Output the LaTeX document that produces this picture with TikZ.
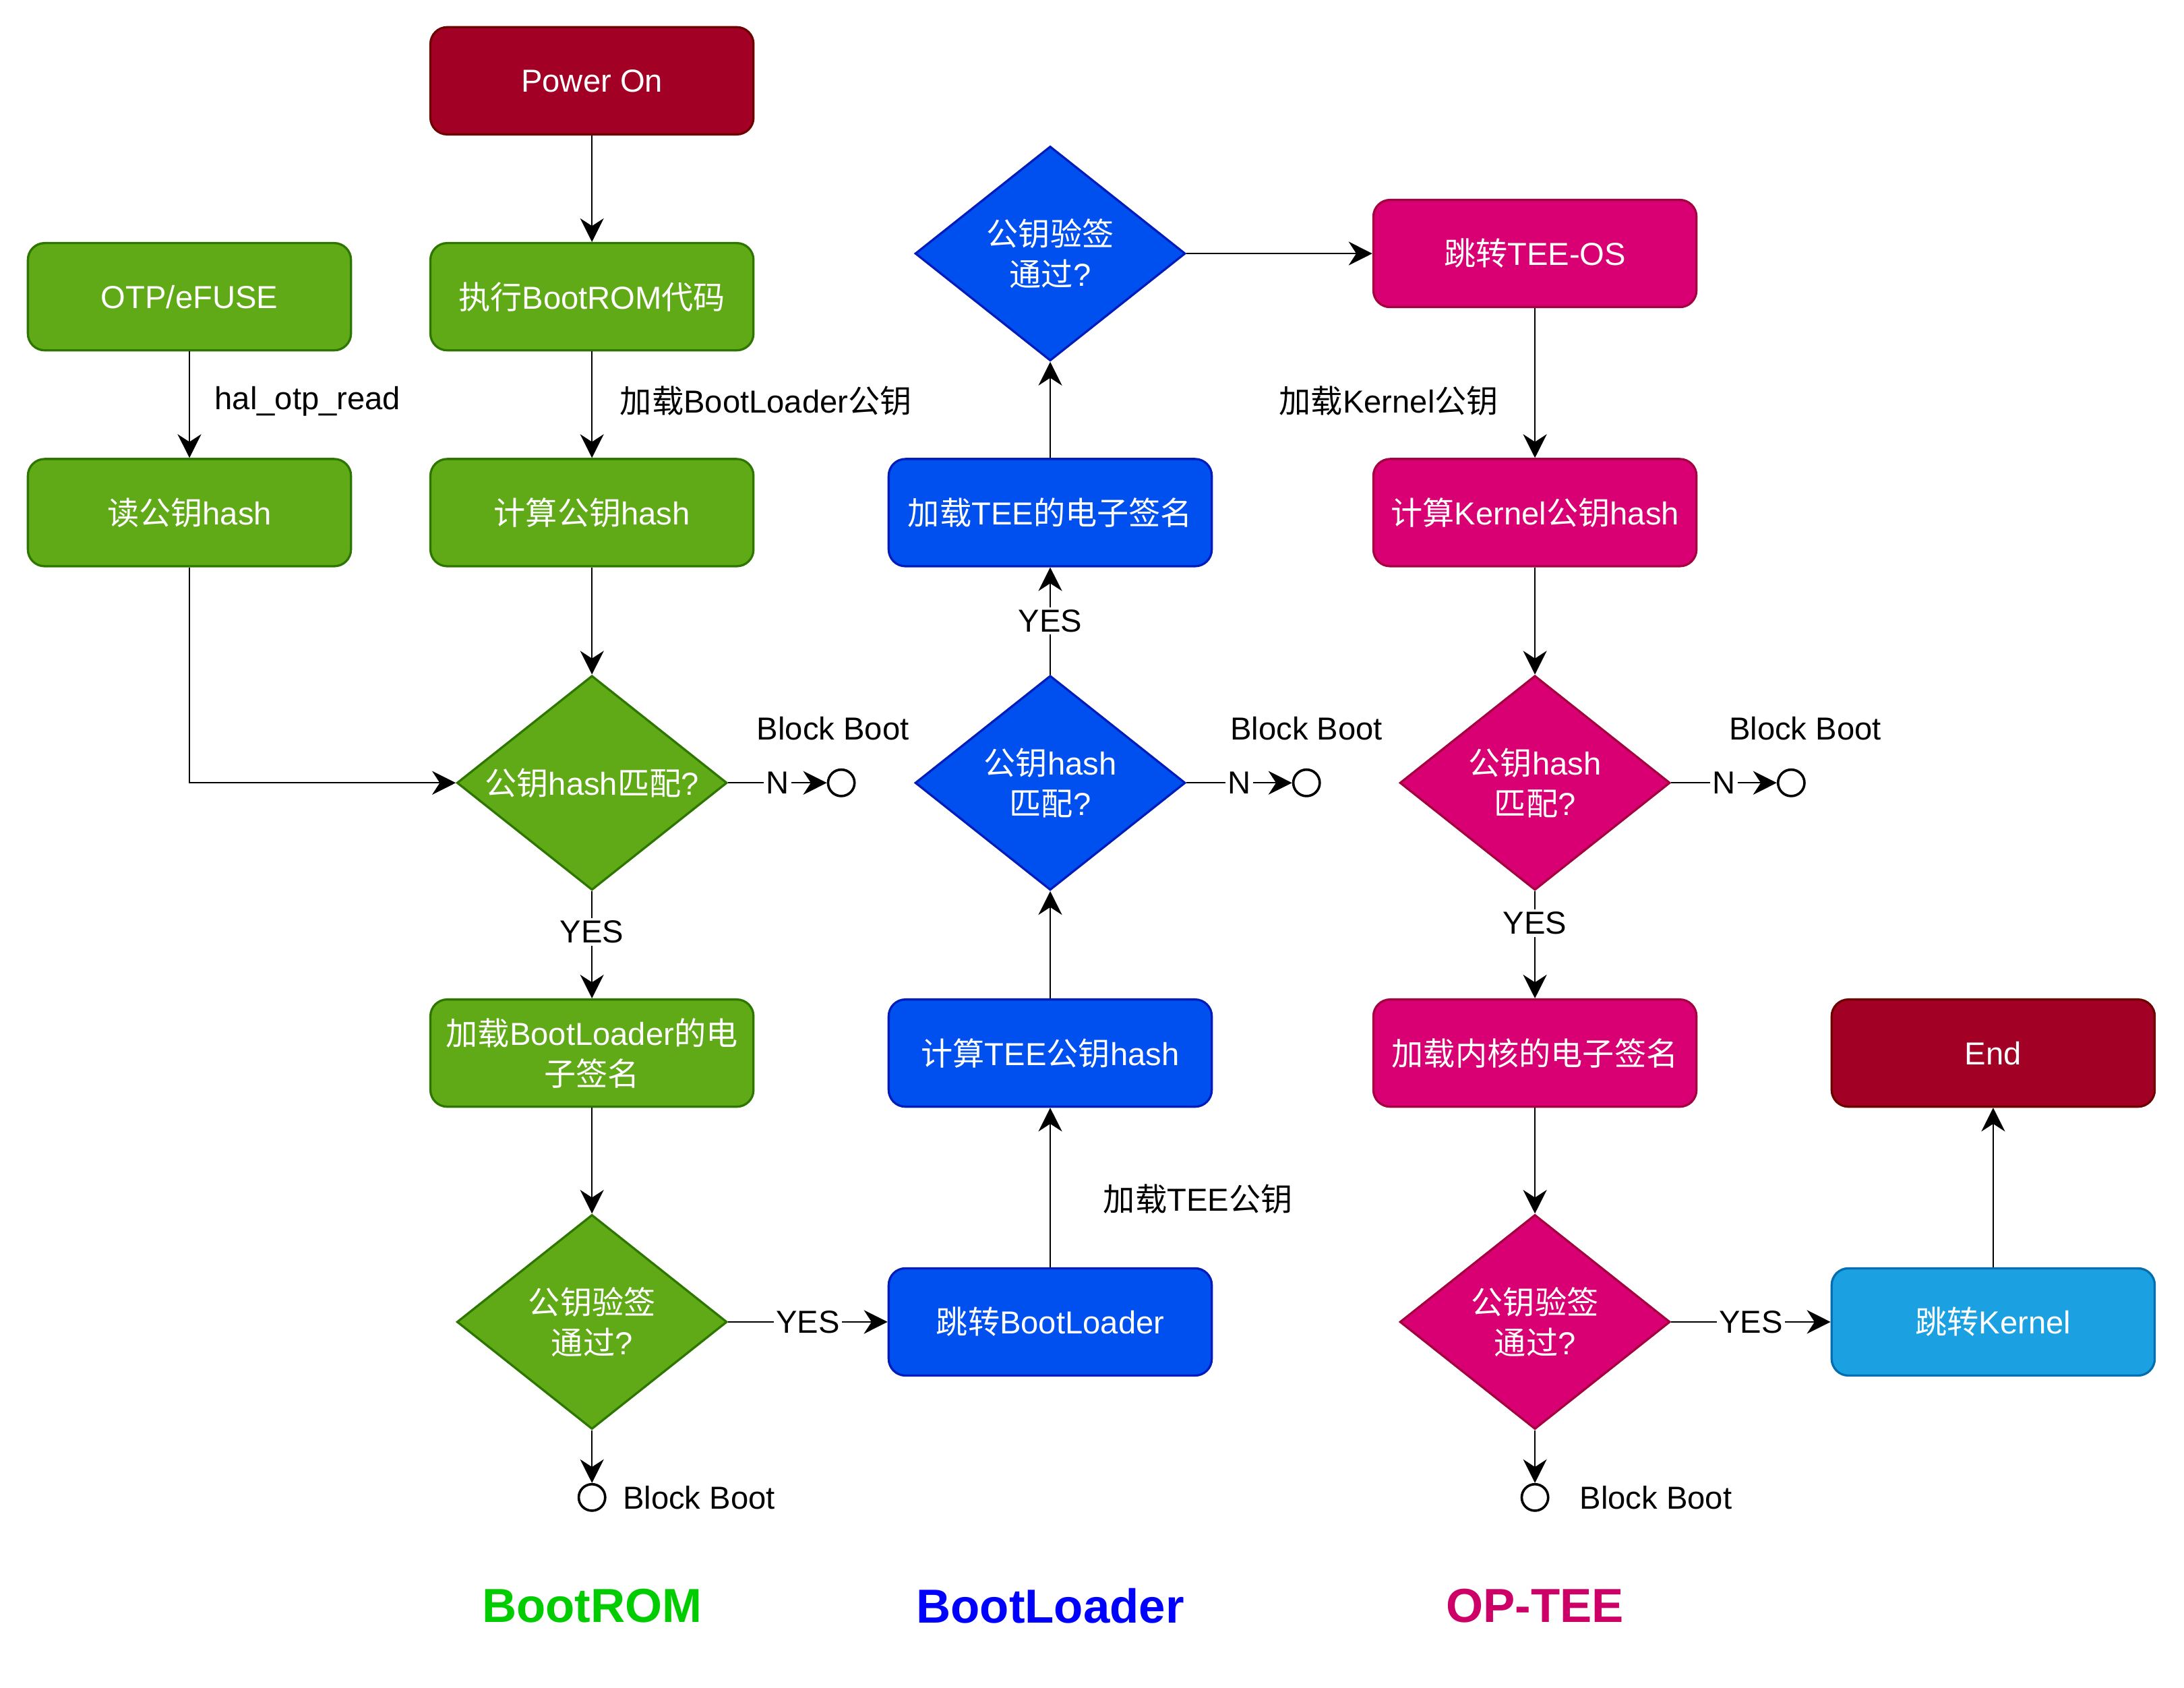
\documentclass[tikz,border=0pt]{standalone}
\usepackage{fontspec}
\setmainfont{Liberation Sans}
\newfontfamily\zhfont{Noto Sans CJK SC}
\newcommand{\zh}[1]{{\zhfont #1}}
\usetikzlibrary{arrows.meta,shapes.geometric}

\definecolor{romfill}{HTML}{60A917}
\definecolor{romline}{HTML}{2D7600}
\definecolor{ldrfill}{HTML}{0050EF}
\definecolor{ldrline}{HTML}{001DBC}
\definecolor{teefill}{HTML}{D80073}
\definecolor{teeline}{HTML}{A50040}
\definecolor{finfill}{HTML}{A20025}
\definecolor{finline}{HTML}{6F0000}
\definecolor{kerfill}{HTML}{1BA1E2}
\definecolor{kerline}{HTML}{006EAF}
\definecolor{romtitle}{HTML}{00CC00}
\definecolor{ldrtitle}{HTML}{0000FF}
\definecolor{teetitle}{HTML}{CC0066}

\begin{document}
\begin{tikzpicture}[x=0.02cm,y=-0.02cm,>={Stealth[length=3.4mm,width=3.4mm,inset=1.1mm]},
    font=\fontsize{13}{16.5}\selectfont,
    box/.style={draw,rounded corners=2.4mm,minimum width=4.64cm,minimum height=1.54cm,line width=0.9pt,text=white,align=center},
    dec/.style={draw,diamond,shape aspect=1.26,minimum width=3.88cm,minimum height=3.08cm,inner sep=0pt,line width=0.9pt,text=white,align=center},
    rom/.style={fill=romfill,draw=romline},
    ldr/.style={fill=ldrfill,draw=ldrline},
    tee/.style={fill=teefill,draw=teeline},
    fin/.style={fill=finfill,draw=finline},
    ker/.style={fill=kerfill,draw=kerline},
    halt/.style={circle,draw,line width=1pt,minimum size=0.38cm,inner sep=0pt},
    yn/.style={fill=white,inner sep=1pt},
    flow/.style={->,line width=0.6pt},
    title/.style={font=\fontsize{19.5}{23}\selectfont\bfseries}]
                \useasboundingbox (0,0) rectangle (1568,1211.8);

                \node[box,fin] (power) at (425,58) {Power On};
                \node[box,rom] (otp) at (136,213) {OTP/eFUSE};
                \node[box,rom] (exec) at (425,213) {\zh{执行}BootROM\zh{代码}};
                \node[box,rom] (readh) at (136,368) {\zh{读公钥}hash};
                \node[box,rom] (calch) at (425,368) {\zh{计算公钥}hash};
                \node[dec,rom] (romhash) at (425,562) {\zh{公钥}hash\zh{匹配}?};
                \node[box,rom] (romsig) at (425,756) {\zh{加载}BootLoader\zh{的电}\\\zh{子签名}};
                \node[dec,rom] (romver) at (425,949) {\zh{公钥验签}\\\zh{通过}?};
                \node[halt] (romx1) at (604,562) {};
                \node[halt] (romx2) at (425,1075) {};

                \node[box,ldr] (jbl) at (754,949) {\zh{跳转}BootLoader};
                \node[box,ldr] (teeh) at (754,756) {\zh{计算}TEE\zh{公钥}hash};
                \node[dec,ldr] (ldrhash) at (754,562) {\zh{公钥}hash\\\zh{匹配}?};
                \node[box,ldr] (teesig) at (754,368) {\zh{加载}TEE\zh{的电子签名}};
                \node[dec,ldr] (ldrver) at (754,182) {\zh{公钥验签}\\\zh{通过}?};
                \node[halt] (ldrx) at (938,562) {};

                \node[box,tee] (jtee) at (1102,182) {\zh{跳转}TEE-OS};
                \node[box,tee] (kerh) at (1102,368) {\zh{计算}Kernel\zh{公钥}hash};
                \node[dec,tee] (teehash) at (1102,562) {\zh{公钥}hash\\\zh{匹配}?};
                \node[box,tee] (kersig) at (1102,756) {\zh{加载内核的电子签名}};
                \node[dec,tee] (teever) at (1102,949) {\zh{公钥验签}\\\zh{通过}?};
                \node[halt] (teex1) at (1286,562) {};
                \node[halt] (teex2) at (1102,1075) {};
                \node[box,ker] (jker) at (1431,949) {\zh{跳转}Kernel};
                \node[box,fin] (done) at (1431,756) {End};

                \node[anchor=west] (otplbl) at (148,288) {hal\_otp\_read};
                \node[anchor=west] (bllbl) at (439,288) {\zh{加载}BootLoader\zh{公钥}};
                \node[anchor=west] (teelbl) at (786,861) {\zh{加载}TEE\zh{公钥}};
                \node[anchor=east] (kerlbl) at (1082,288) {\zh{加载}Kernel\zh{公钥}};
                \node (blk1) at (598,523) {Block Boot};
                \node (blk2) at (938,523) {Block Boot};
                \node (blk3) at (1296,523) {Block Boot};
                \node[anchor=west] (blk4) at (441,1075) {Block Boot};
                \node[anchor=west] (blk5) at (1128,1075) {Block Boot};

                \node[title,text=romtitle] (trom) at (425,1153) {BootROM};
                \node[title,text=ldrtitle] (tldr) at (754,1153) {BootLoader};
                \node[title,text=teetitle] (ttee) at (1102,1153) {OP-TEE};

                \draw[flow] (power) -- (exec);
                \draw[flow] (otp) -- (readh);
                \draw[flow] (exec) -- (calch);
                \draw[flow] (readh) |- (romhash);
                \draw[flow] (calch) -- (romhash);
                \draw[flow] (romhash) -- node[yn,pos=0.38]{YES} (romsig);
                \draw[flow] (romhash) -- node[yn]{N} (romx1);
                \draw[flow] (romsig) -- (romver);
                \draw[flow] (romver) -- node[yn]{YES} (jbl);
                \draw[flow] (romver) -- (romx2);

                \draw[flow] (jbl) -- (teeh);
                \draw[flow] (teeh) -- (ldrhash);
                \draw[flow] (ldrhash) -- node[yn]{YES} (teesig);
                \draw[flow] (ldrhash) -- node[yn]{N} (ldrx);
                \draw[flow] (teesig) -- (ldrver);
                \draw[flow] (ldrver) -- (jtee);

                \draw[flow] (jtee) -- (kerh);
                \draw[flow] (kerh) -- (teehash);
                \draw[flow] (teehash) -- node[yn,pos=0.3]{YES} (kersig);
                \draw[flow] (teehash) -- node[yn]{N} (teex1);
                \draw[flow] (kersig) -- (teever);
                \draw[flow] (teever) -- node[yn]{YES} (jker);
                \draw[flow] (teever) -- (teex2);
                \draw[flow] (jker) -- (done);
            \end{tikzpicture}
\end{document}
